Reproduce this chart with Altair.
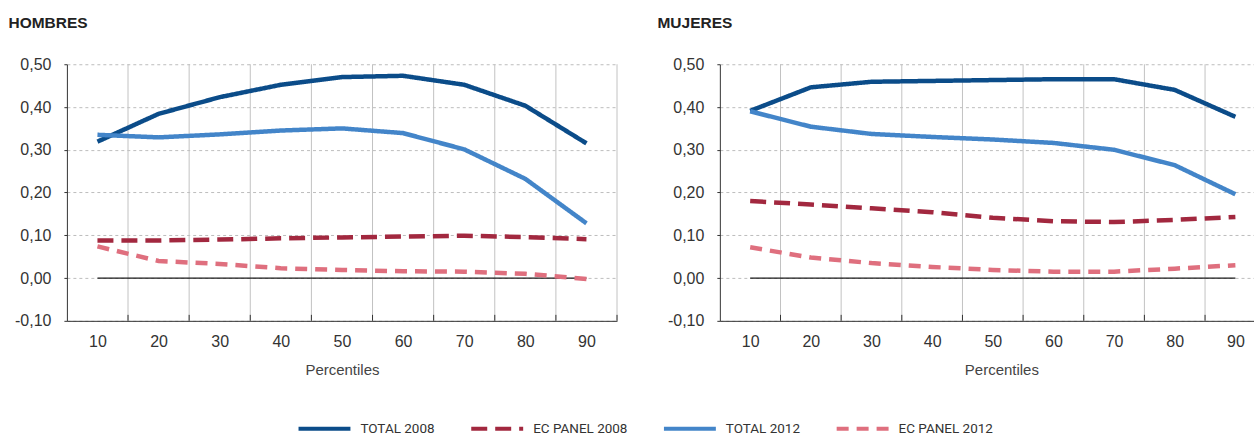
import altair as alt
import pandas as pd

percentiles = [10, 20, 30, 40, 50, 60, 70, 80, 90]
series_names = ["TOTAL 2008", "EC PANEL 2008", "TOTAL 2012", "EC PANEL 2012"]
series_colors = ["#0b4c89", "#a2283f", "#4385c9", "#df6f7e"]
series_dashes = [[1, 0], [16, 8], [1, 0], [12, 8]]

# HOMBRES
h_total_2008 = [0.319, 0.384, 0.423, 0.452, 0.470, 0.473, 0.452, 0.403, 0.315]
h_ec_2008 = [0.088, 0.088, 0.090, 0.093, 0.095, 0.097, 0.099, 0.096, 0.091]
h_total_2012 = [0.335, 0.329, 0.336, 0.345, 0.350, 0.339, 0.301, 0.232, 0.128]
h_ec_2012 = [0.074, 0.040, 0.033, 0.023, 0.019, 0.016, 0.015, 0.010, -0.002]

# MUJERES
m_total_2008 = [0.391, 0.446, 0.459, 0.461, 0.463, 0.465, 0.465, 0.440, 0.377]
m_ec_2008 = [0.180, 0.172, 0.163, 0.154, 0.141, 0.133, 0.131, 0.136, 0.143]
m_total_2012 = [0.390, 0.354, 0.337, 0.330, 0.324, 0.316, 0.300, 0.264, 0.196]
m_ec_2012 = [0.072, 0.048, 0.035, 0.026, 0.019, 0.015, 0.015, 0.022, 0.030]

y_ticks = [-0.1, 0.0, 0.1, 0.2, 0.3, 0.4, 0.5]

FONT = "Liberation Sans"
H = 257


def panel(title, vals, width, xmax, bounds, title_x, title_dx):
    rows = []
    for name, v in zip(series_names, vals):
        for p, y in zip(percentiles, v):
            rows.append({"p": p, "v": y, "s": name})
    df = pd.DataFrame(rows)
    xs = alt.Scale(domain=[5, xmax], nice=False, zero=False)
    ys = alt.Scale(domain=[-0.1, 0.5], nice=False, zero=False)

    x_axis = alt.Axis(
        values=percentiles,
        title="Percentiles",
        grid=False,
        ticks=False,
        domainColor="#333333",
        labelFont=FONT,
        labelFontSize=16,
        labelColor="#333333",
        labelPadding=13,
        titleFont=FONT,
        titleFontSize=15,
        titleFontWeight="normal",
        titleColor="#444444",
        titlePadding=13,
        titleX=title_x,
        labelFlush=False,
    )
    y_axis = alt.Axis(
        values=y_ticks,
        title=None,
        grid=True,
        gridDash=[3, 3],
        gridColor="#bdbdbd",
        domainColor="#333333",
        tickColor="#333333",
        tickSize=3,
        labelFont=FONT,
        labelFontSize=16,
        labelColor="#333333",
        labelPadding=13,
        labelExpr="replace(replace(format(datum.value, '.2f'), '.', ','), '\u2212', '-')",
    )

    bdf = pd.DataFrame({"p": bounds})
    grid = alt.Chart(bdf).mark_rule(color="#c2c2c2", strokeWidth=1).encode(
        x=alt.X("p:Q", scale=xs, axis=x_axis), y=alt.value(0), y2=alt.value(H)
    )

    ticks = alt.Chart(bdf).mark_rule(color="#333333", strokeWidth=1).encode(
        x=alt.X("p:Q", scale=xs, axis=x_axis), y=alt.value(H - 6), y2=alt.value(H)
    )

    zero = alt.Chart(pd.DataFrame({"p": [10], "p2": [90], "v": [0.0]})).mark_rule(
        color="#1a1a1a", strokeWidth=1.2
    ).encode(
        x=alt.X("p:Q", scale=xs, axis=x_axis),
        x2="p2:Q",
        y=alt.Y("v:Q", scale=ys, axis=y_axis),
    )

    leg = alt.Legend(
        title=None,
        orient="none",
        legendX=230,
        legendY=337,
        direction="horizontal",
        symbolType="stroke",
        symbolSize=2704,
        symbolStrokeWidth=4,
        labelFont="Roboto",
        labelFontSize=13.5,
        labelColor="#333333",
        labelOffset=8,
        columnPadding=28,
    )

    lines = alt.Chart(df).mark_line(strokeWidth=4.5).encode(
        x=alt.X("p:Q", scale=xs, axis=x_axis),
        y=alt.Y("v:Q", scale=ys, axis=y_axis),
        color=alt.Color("s:N", scale=alt.Scale(domain=series_names, range=series_colors), legend=leg),
        strokeDash=alt.StrokeDash("s:N", scale=alt.Scale(domain=series_names, range=series_dashes), legend=leg),
    )

    return alt.layer(grid, ticks, zero, lines).properties(
        width=width,
        height=H,
        title=alt.TitleParams(
            text=title,
            anchor="start",
            dx=title_dx,
            offset=25,
            font=FONT,
            fontSize=15.5,
            fontWeight="bold",
            color="#222222",
        ),
    )


left = panel(
    "HOMBRES",
    [h_total_2008, h_ec_2008, h_total_2012, h_ec_2012],
    551, 95, [15, 25, 35, 45, 55, 65, 75, 85, 95], 275.5, -6,
)
right = panel(
    "MUJERES",
    [m_total_2008, m_ec_2008, m_total_2012, m_ec_2012],
    535, 93.07, [15, 25, 35, 45, 55, 65, 75, 85], 282, -10,
)

chart = alt.hconcat(left, right, spacing=39).resolve_scale(
    x="independent", y="independent", color="shared", strokeDash="shared"
).properties(
    padding={"left": 8, "top": 15, "right": 0, "bottom": 0},
    background="white",
).configure_view(stroke=None)

chart.save("out.html", embed_options={"renderer": "svg", "actions": False})
